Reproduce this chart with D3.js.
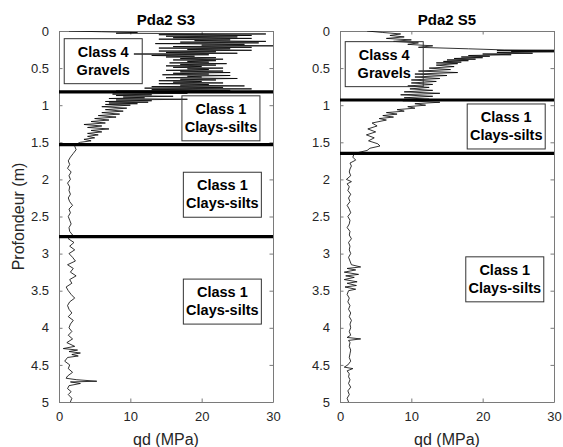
<!DOCTYPE html>
<html>
<head>
<meta charset="utf-8">
<script src="https://cdn.jsdelivr.net/npm/d3@7"></script>
<style>
  body { margin: 0; background: #fff; }
  svg { display: block; font-family: "Liberation Sans", Arial, sans-serif; }
  .tick text { fill: #262626; }
  .tick line, .domain { stroke: #7a7a7a; }
</style>
</head>
<body>
<div id="chart"></div>
<script>
'use strict';

// depth (m), qd (MPa)
const s3Profile = [
  [0.00, 1.4], [0.01, 6], [0.02, 11], [0.03, 8], [0.04, 29], [0.05, 14], [0.06, 27], [0.07, 15],
  [0.08, 25], [0.09, 16], [0.10, 27], [0.11, 14], [0.12, 24], [0.13, 19], [0.14, 29], [0.15, 17],
  [0.16, 28], [0.17, 13.5], [0.18, 26], [0.19, 20], [0.20, 30], [0.21, 16], [0.22, 27], [0.23, 14],
  [0.24, 24], [0.25, 18], [0.26, 27], [0.27, 14], [0.28, 22], [0.29, 15], [0.30, 25], [0.31, 10.5],
  [0.32, 21], [0.33, 13], [0.34, 19], [0.35, 15], [0.36, 22], [0.37, 17], [0.38, 23], [0.39, 16],
  [0.40, 22], [0.41, 18], [0.42, 21], [0.43, 15.5], [0.44, 23.5], [0.45, 17], [0.46, 22], [0.47, 15],
  [0.48, 20], [0.49, 16], [0.50, 23], [0.51, 18], [0.52, 21], [0.53, 15], [0.54, 23], [0.55, 17],
  [0.56, 24], [0.57, 16], [0.58, 21], [0.59, 14.5], [0.60, 24], [0.61, 18], [0.62, 20], [0.63, 15],
  [0.64, 25], [0.65, 17], [0.66, 22], [0.67, 14], [0.68, 20], [0.69, 16], [0.70, 23], [0.71, 14],
  [0.72, 21], [0.73, 17], [0.74, 26], [0.75, 13], [0.76, 23], [0.77, 12], [0.78, 27], [0.79, 13],
  [0.80, 24], [0.81, 8], [0.82, 26], [0.83, 9], [0.84, 18], [0.85, 7.5], [0.86, 13], [0.87, 8],
  [0.88, 16], [0.89, 9], [0.90, 12], [0.91, 7], [0.92, 18], [0.93, 8], [0.94, 13], [0.95, 6.5],
  [0.96, 12.5], [0.97, 7], [0.98, 11], [0.99, 6.5], [1.00, 10], [1.02, 6], [1.04, 9.5], [1.06, 6.5],
  [1.08, 9], [1.10, 6], [1.12, 8.5], [1.14, 5.5], [1.16, 8], [1.18, 5], [1.20, 7], [1.22, 4.5],
  [1.24, 6.5], [1.26, 3.5], [1.28, 6], [1.30, 4], [1.32, 7], [1.34, 4.5], [1.36, 6], [1.38, 4],
  [1.40, 5.5], [1.42, 4], [1.44, 5], [1.46, 3.5], [1.48, 4.5], [1.50, 3], [1.52, 2.5], [1.55, 2.2],
  [1.60, 2.4], [1.65, 2], [1.70, 1.6], [1.75, 1.3], [1.80, 1.5], [1.85, 1.2], [1.90, 1.7], [1.95, 1.4],
  [2.00, 1.6], [2.05, 1.2], [2.10, 1.5], [2.15, 1.4], [2.20, 1.6], [2.25, 1.3], [2.30, 1.5], [2.35, 1.9],
  [2.40, 1.4], [2.45, 1.6], [2.50, 1.3], [2.55, 1.5], [2.60, 1.7], [2.65, 1.4], [2.70, 1.5], [2.75, 1.9],
  [2.80, 1.3], [2.85, 2.1], [2.90, 1.5], [2.95, 2.2], [3.00, 1.4], [3.05, 1.9], [3.10, 2.3], [3.15, 1.2],
  [3.20, 2.0], [3.25, 1.6], [3.30, 2.4], [3.35, 1.5], [3.40, 1.8], [3.45, 1.0], [3.50, 1.3], [3.55, 1.7],
  [3.60, 2.2], [3.65, 1.5], [3.70, 1.2], [3.75, 1.4], [3.80, 1.8], [3.85, 1.3], [3.90, 2.0], [3.95, 1.6],
  [4.00, 1.4], [4.05, 1.8], [4.10, 1.3], [4.15, 1.9], [4.20, 1.1], [4.25, 2.2], [4.28, 0.6], [4.30, 2.6],
  [4.32, 1.4], [4.34, 3.0], [4.36, 1.8], [4.38, 2.7], [4.40, 1.2], [4.45, 0.8], [4.50, 1.5], [4.55, 1.3],
  [4.60, 1.9], [4.65, 1.2], [4.68, 1.0], [4.70, 2.5], [4.72, 5.3], [4.73, 1.6], [4.75, 3.0], [4.78, 1.4],
  [4.82, 1.2], [4.86, 1.7], [4.90, 1.3], [4.95, 1.8], [5.00, 1.6]
];

const s5Profile = [
  [0.00, 3.8], [0.02, 6], [0.04, 8.5], [0.06, 7], [0.08, 9], [0.10, 6.5], [0.12, 10], [0.14, 7.5],
  [0.16, 11], [0.18, 9.5], [0.20, 13], [0.22, 11], [0.24, 18], [0.255, 23], [0.26, 30], [0.265, 22],
  [0.27, 30], [0.275, 24], [0.28, 30], [0.29, 22], [0.30, 27], [0.31, 20], [0.32, 24], [0.33, 18],
  [0.34, 21], [0.35, 17], [0.36, 20], [0.37, 16], [0.38, 19], [0.39, 15], [0.40, 18], [0.41, 14.5],
  [0.42, 17], [0.43, 13.5], [0.44, 16.5], [0.46, 13.5], [0.48, 16], [0.50, 12.5], [0.52, 15.5], [0.54, 11],
  [0.56, 16.5], [0.58, 10.5], [0.60, 15], [0.62, 10.5], [0.64, 14], [0.66, 10], [0.68, 13.5], [0.70, 10],
  [0.72, 13], [0.74, 9.5], [0.76, 12.5], [0.78, 9.8], [0.80, 13], [0.82, 9], [0.84, 14], [0.86, 8.5],
  [0.88, 13], [0.90, 9], [0.92, 12.5], [0.94, 8.8], [0.96, 14], [0.98, 10.5], [1.00, 12], [1.02, 9.5],
  [1.04, 10.5], [1.06, 8], [1.08, 9], [1.10, 6.5], [1.12, 8], [1.14, 6], [1.16, 7.5], [1.18, 5.5],
  [1.20, 6.5], [1.24, 4.5], [1.28, 5.2], [1.32, 3.9], [1.36, 5.0], [1.40, 3.7], [1.44, 4.8], [1.48, 4.0],
  [1.52, 5.3], [1.55, 5.6], [1.58, 4.2], [1.61, 3.8], [1.65, 2.0], [1.70, 1.8], [1.74, 2.2], [1.78, 1.4],
  [1.82, 1.6], [1.86, 1.4], [1.90, 1.3], [1.95, 1.5], [2.00, 0.9], [2.03, 1.6], [2.06, 1.0], [2.10, 1.3],
  [2.15, 1.1], [2.20, 1.5], [2.25, 1.2], [2.30, 1.4], [2.35, 1.0], [2.40, 1.3], [2.45, 1.5], [2.50, 1.1],
  [2.55, 1.4], [2.60, 1.3], [2.65, 1.0], [2.70, 1.4], [2.75, 1.3], [2.80, 1.6], [2.85, 1.2], [2.90, 1.4],
  [2.95, 1.3], [3.00, 1.5], [3.05, 1.2], [3.10, 1.4], [3.15, 1.6], [3.18, 2.9], [3.20, 1.0], [3.22, 2.2],
  [3.25, 0.6], [3.28, 2.6], [3.30, 0.8], [3.32, 2.0], [3.35, 0.6], [3.38, 2.4], [3.40, 1.0], [3.43, 2.3],
  [3.45, 0.7], [3.48, 2.2], [3.50, 1.2], [3.55, 1.0], [3.60, 1.3], [3.65, 1.1], [3.70, 1.4], [3.75, 1.2],
  [3.80, 1.5], [3.85, 1.3], [3.90, 1.6], [3.95, 1.4], [4.00, 1.5], [4.05, 1.3], [4.10, 1.5], [4.13, 1.0],
  [4.15, 2.9], [4.17, 1.2], [4.20, 1.4], [4.25, 1.3], [4.30, 1.5], [4.35, 1.4], [4.40, 1.3], [4.45, 1.5],
  [4.50, 1.1], [4.53, 0.6], [4.55, 1.8], [4.58, 1.0], [4.62, 1.3], [4.66, 1.2], [4.70, 1.4], [4.75, 1.2],
  [4.80, 1.5], [4.85, 1.1], [4.90, 1.3], [4.95, 1.0], [5.00, 1.2]
];

// layer boundaries (m)
const s3Boundaries = [0.82, 1.53, 2.77];
const s5Boundaries = [0.93, 1.65];

// class labels: centre in data units (qd, depth)
const s3Labels = [
  { lines: ['Class 4', 'Gravels'], qd: 6.2, depth: 0.40 },
  { lines: ['Class 1', 'Clays-silts'], qd: 22.7, depth: 1.17 },
  { lines: ['Class 1', 'Clays-silts'], qd: 22.9, depth: 2.20 },
  { lines: ['Class 1', 'Clays-silts'], qd: 22.9, depth: 3.64 }
];
const s5Labels = [
  { lines: ['Class 4', 'Gravels'], qd: 6.2, depth: 0.44 },
  { lines: ['Class 1', 'Clays-silts'], qd: 23.3, depth: 1.28 },
  { lines: ['Class 1', 'Clays-silts'], qd: 23.1, depth: 3.34 }
];

const panelTitles = ['Pda2 S3', 'Pda2 S5'];
const depthTicks = [0, 0.5, 1, 1.5, 2, 2.5, 3, 3.5, 4, 4.5, 5];
const qdTicks = [0, 10, 20, 30];

const width = 563;
const height = 447;
const plotTop = 31;
const plotBottom = 402;
const plotWidth = 214;

const svg = d3.select('#chart').append('svg')
  .attr('width', width)
  .attr('height', height);

function drawPanel(left, title, profile, boundaries, labels, idx) {
  const x = d3.scaleLinear().domain([0, 30]).range([left, left + plotWidth]);
  const y = d3.scaleLinear().domain([0, 5]).range([plotTop, plotBottom]);

  const g = svg.append('g');

  g.append('clipPath')
    .attr('id', 'clip' + idx)
    .append('rect')
    .attr('x', left).attr('y', plotTop)
    .attr('width', plotWidth).attr('height', plotBottom - plotTop);

  // axes, ticks pointing inward on all four sides
  const tickLen = 3.5;
  g.append('g')
    .attr('transform', 'translate(0,' + plotBottom + ')')
    .call(d3.axisBottom(x).tickValues(qdTicks).tickSizeInner(-tickLen).tickSizeOuter(0).tickPadding(10))
    .call(a => a.selectAll('text').style('font-size', '13px'));
  g.append('g')
    .attr('transform', 'translate(0,' + plotTop + ')')
    .call(d3.axisTop(x).tickValues(qdTicks).tickSizeInner(-tickLen).tickSizeOuter(0).tickFormat(''));
  g.append('g')
    .attr('transform', 'translate(' + left + ',0)')
    .call(d3.axisLeft(y).tickValues(depthTicks).tickSizeInner(-tickLen).tickSizeOuter(0).tickPadding(10).tickFormat(d => String(d)))
    .call(a => a.selectAll('text').style('font-size', '13px'));
  g.append('g')
    .attr('transform', 'translate(' + (left + plotWidth) + ',0)')
    .call(d3.axisRight(y).tickValues(depthTicks).tickSizeInner(-tickLen).tickSizeOuter(0).tickFormat(''));
  g.selectAll('.domain').attr('stroke', '#7a7a7a');

  // cone resistance trace
  const line = d3.line()
    .x(d => x(d[1]))
    .y(d => y(d[0]));
  g.append('path')
    .datum(profile)
    .attr('clip-path', 'url(#clip' + idx + ')')
    .attr('fill', 'none')
    .attr('stroke', '#000')
    .attr('stroke-width', 0.8)
    .attr('d', line);

  // layer boundaries
  g.selectAll('line.boundary')
    .data(boundaries)
    .enter().append('line')
    .attr('class', 'boundary')
    .attr('x1', x(0)).attr('x2', x(30))
    .attr('y1', d => y(d)).attr('y2', d => y(d))
    .attr('stroke', '#000')
    .attr('stroke-width', 3.2);

  // class labels
  const lab = g.selectAll('g.label')
    .data(labels)
    .enter().append('g')
    .attr('class', 'label')
    .attr('transform', d => 'translate(' + x(d.qd) + ',' + y(d.depth) + ')');

  lab.append('rect')
    .attr('x', -39).attr('y', -22)
    .attr('width', 78).attr('height', 45)
    .attr('fill', 'none')
    .attr('stroke', '#333')
    .attr('stroke-width', 1);

  lab.each(function (d) {
    const t = d3.select(this).append('text')
      .attr('text-anchor', 'middle')
      .style('font-size', '14.5px')
      .style('font-weight', 'bold')
      .attr('fill', '#000');
    d.lines.forEach((s, i) => {
      t.append('tspan')
        .attr('x', 0)
        .attr('y', -4 + i * 18)
        .text(s);
    });
  });

  // title
  g.append('text')
    .attr('x', left + plotWidth / 2)
    .attr('y', plotTop - 6)
    .attr('text-anchor', 'middle')
    .style('font-size', '15px')
    .style('font-weight', 'bold')
    .attr('fill', '#000')
    .text(title);

  // x label
  g.append('text')
    .attr('x', left + plotWidth / 2)
    .attr('y', 445)
    .attr('text-anchor', 'middle')
    .style('font-size', '16px')
    .attr('fill', '#262626')
    .text('qd (MPa)');
}

drawPanel(59, panelTitles[0], s3Profile, s3Boundaries, s3Labels, 0);
drawPanel(340, panelTitles[1], s5Profile, s5Boundaries, s5Labels, 1);

svg.append('text')
  .attr('transform', 'translate(24,' + ((plotTop + plotBottom) / 2) + ') rotate(-90)')
  .attr('text-anchor', 'middle')
  .style('font-size', '16px')
  .attr('fill', '#262626')
  .text('Profondeur (m)');
</script>
</body>
</html>
